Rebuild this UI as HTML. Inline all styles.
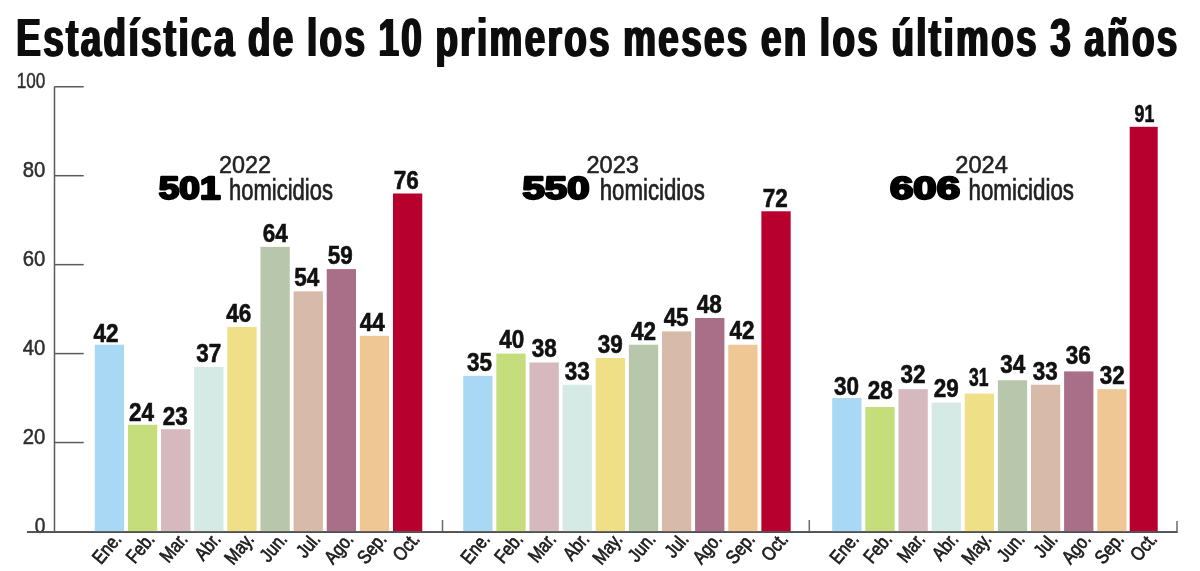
<!DOCTYPE html>
<html lang="es"><head><meta charset="utf-8"><title>Estadística de homicidios</title>
<style>html,body{margin:0;padding:0;background:#fff}svg{display:block}</style></head>
<body>
<svg width="1200" height="571" viewBox="0 0 1200 571" font-family="Liberation Sans, Arial, Helvetica, sans-serif">
<rect width="1200" height="571" fill="#fff"/>
<defs><filter id="fat" x="-2%" y="-10%" width="104%" height="120%"><feOffset in="SourceGraphic" dx="-1.0" dy="0" result="a"/><feOffset in="SourceGraphic" dx="1.0" dy="0" result="b"/><feMerge><feMergeNode in="a"/><feMergeNode in="SourceGraphic"/><feMergeNode in="b"/></feMerge></filter></defs>
<g filter="url(#fat)"><text transform="translate(16.3,56.3) scale(0.67474,1)" font-size="54.6" font-weight="700" fill="#111" letter-spacing="3.5" word-spacing="-2.0">Estadística de los 10 primeros meses en los últimos 3 años</text></g>
<g stroke="#5a5a5a" stroke-width="1.5" fill="none">
<line x1="54.5" y1="86.5" x2="54.5" y2="531.5"/>
<line x1="54.5" y1="86.75" x2="83.7" y2="86.75"/>
<line x1="54.5" y1="175.70" x2="83.7" y2="175.70"/>
<line x1="54.5" y1="264.65" x2="83.7" y2="264.65"/>
<line x1="54.5" y1="353.60" x2="83.7" y2="353.60"/>
<line x1="54.5" y1="442.55" x2="83.7" y2="442.55"/>
</g>
<line x1="27" y1="532.1" x2="1177.5" y2="532.1" stroke="#505050" stroke-width="1.6"/>
<g stroke="#6a6a6a" stroke-width="1.5"><line x1="442.5" y1="520" x2="442.5" y2="531.5"/><line x1="809.3" y1="520" x2="809.3" y2="531.5"/><line x1="1177" y1="521" x2="1177" y2="531.5"/></g>
<g font-size="21.8" fill="#2e2e2e" stroke="#2e2e2e" stroke-width="0.5" text-anchor="end">
<text x="45.3" y="87.75" textLength="28.6" lengthAdjust="spacingAndGlyphs">100</text>
<text x="45.3" y="176.70" textLength="22.6" lengthAdjust="spacingAndGlyphs">80</text>
<text x="45.3" y="265.65" textLength="22.6" lengthAdjust="spacingAndGlyphs">60</text>
<text x="45.3" y="354.60" textLength="22.6" lengthAdjust="spacingAndGlyphs">40</text>
<text x="45.3" y="443.55" textLength="22.6" lengthAdjust="spacingAndGlyphs">20</text>
<text x="45.3" y="532.50" textLength="10.6" lengthAdjust="spacingAndGlyphs">0</text>
</g>
<g>
<rect x="94.80" y="344.71" width="29.3" height="186.79" fill="#A8D8F4"/>
<rect x="127.93" y="424.76" width="29.3" height="106.74" fill="#C6DD7B"/>
<rect x="161.06" y="429.21" width="29.3" height="102.29" fill="#D6B9BE"/>
<rect x="194.19" y="366.94" width="29.3" height="164.56" fill="#D5E9E5"/>
<rect x="227.32" y="326.92" width="29.3" height="204.58" fill="#EFDF87"/>
<rect x="260.45" y="246.86" width="29.3" height="284.64" fill="#B8C7AC"/>
<rect x="293.58" y="291.34" width="29.3" height="240.16" fill="#D7BAAA"/>
<rect x="326.71" y="269.10" width="29.3" height="262.40" fill="#A96E88"/>
<rect x="359.84" y="335.81" width="29.3" height="195.69" fill="#EEC794"/>
<rect x="392.97" y="193.49" width="29.3" height="338.01" fill="#B8002F"/>
</g>
<g>
<rect x="463.20" y="375.84" width="29.3" height="155.66" fill="#A8D8F4"/>
<rect x="496.33" y="353.60" width="29.3" height="177.90" fill="#C6DD7B"/>
<rect x="529.46" y="362.50" width="29.3" height="169.00" fill="#D6B9BE"/>
<rect x="562.59" y="384.73" width="29.3" height="146.77" fill="#D5E9E5"/>
<rect x="595.72" y="358.05" width="29.3" height="173.45" fill="#EFDF87"/>
<rect x="628.85" y="344.71" width="29.3" height="186.79" fill="#B8C7AC"/>
<rect x="661.98" y="331.36" width="29.3" height="200.14" fill="#D7BAAA"/>
<rect x="695.11" y="318.02" width="29.3" height="213.48" fill="#A96E88"/>
<rect x="728.24" y="344.71" width="29.3" height="186.79" fill="#EEC794"/>
<rect x="761.37" y="211.28" width="29.3" height="320.22" fill="#B8002F"/>
</g>
<g>
<rect x="832.20" y="398.08" width="29.3" height="133.42" fill="#A8D8F4"/>
<rect x="865.33" y="406.97" width="29.3" height="124.53" fill="#C6DD7B"/>
<rect x="898.46" y="389.18" width="29.3" height="142.32" fill="#D6B9BE"/>
<rect x="931.59" y="402.52" width="29.3" height="128.98" fill="#D5E9E5"/>
<rect x="964.72" y="393.63" width="29.3" height="137.87" fill="#EFDF87"/>
<rect x="997.85" y="380.28" width="29.3" height="151.22" fill="#B8C7AC"/>
<rect x="1030.98" y="384.73" width="29.3" height="146.77" fill="#D7BAAA"/>
<rect x="1064.11" y="371.39" width="29.3" height="160.11" fill="#A96E88"/>
<rect x="1097.24" y="389.18" width="29.3" height="142.32" fill="#EEC794"/>
<rect x="1129.70" y="126.78" width="28" height="404.72" fill="#B8002F"/>
</g>
<line x1="27" y1="532.1" x2="1177.5" y2="532.1" stroke="#505050" stroke-width="1.6"/>
<g font-size="25.3" font-weight="700" fill="#111" stroke="#111" stroke-width="0.6" text-anchor="middle">
<text x="105.95" y="341.51" textLength="25" lengthAdjust="spacingAndGlyphs">42</text>
<text x="141.58" y="421.16" textLength="25" lengthAdjust="spacingAndGlyphs">24</text>
<text x="175.31" y="424.91" textLength="25" lengthAdjust="spacingAndGlyphs">23</text>
<text x="208.74" y="362.14" textLength="25" lengthAdjust="spacingAndGlyphs">37</text>
<text x="238.77" y="321.72" textLength="25" lengthAdjust="spacingAndGlyphs">46</text>
<text x="275.30" y="242.31" textLength="25" lengthAdjust="spacingAndGlyphs">64</text>
<text x="306.73" y="285.79" textLength="25" lengthAdjust="spacingAndGlyphs">54</text>
<text x="340.26" y="264.45" textLength="25" lengthAdjust="spacingAndGlyphs">59</text>
<text x="372.19" y="330.51" textLength="25" lengthAdjust="spacingAndGlyphs">44</text>
<text x="406.32" y="188.94" textLength="25" lengthAdjust="spacingAndGlyphs">76</text>
<text x="479.60" y="370.74" textLength="25" lengthAdjust="spacingAndGlyphs">35</text>
<text x="511.78" y="348.20" textLength="25" lengthAdjust="spacingAndGlyphs">40</text>
<text x="544.31" y="357.19" textLength="25" lengthAdjust="spacingAndGlyphs">38</text>
<text x="577.14" y="379.63" textLength="25" lengthAdjust="spacingAndGlyphs">33</text>
<text x="610.17" y="352.75" textLength="25" lengthAdjust="spacingAndGlyphs">39</text>
<text x="643.60" y="339.61" textLength="25" lengthAdjust="spacingAndGlyphs">42</text>
<text x="676.13" y="326.16" textLength="25" lengthAdjust="spacingAndGlyphs">45</text>
<text x="709.26" y="312.72" textLength="25" lengthAdjust="spacingAndGlyphs">48</text>
<text x="742.09" y="339.41" textLength="25" lengthAdjust="spacingAndGlyphs">42</text>
<text x="775.22" y="206.68" textLength="25" lengthAdjust="spacingAndGlyphs">72</text>
<text x="846.45" y="394.58" textLength="25" lengthAdjust="spacingAndGlyphs">30</text>
<text x="880.18" y="398.87" textLength="25" lengthAdjust="spacingAndGlyphs">28</text>
<text x="912.96" y="383.18" textLength="25" lengthAdjust="spacingAndGlyphs">32</text>
<text x="946.24" y="397.22" textLength="25" lengthAdjust="spacingAndGlyphs">29</text>
<text x="978.67" y="386.43" textLength="19.5" lengthAdjust="spacingAndGlyphs">31</text>
<text x="1012.70" y="372.68" textLength="25" lengthAdjust="spacingAndGlyphs">34</text>
<text x="1045.23" y="379.73" textLength="25" lengthAdjust="spacingAndGlyphs">33</text>
<text x="1078.16" y="363.99" textLength="25" lengthAdjust="spacingAndGlyphs">36</text>
<text x="1112.19" y="384.38" textLength="25" lengthAdjust="spacingAndGlyphs">32</text>
<text x="1144.50" y="122.48" font-size="23.2" textLength="19.8" lengthAdjust="spacingAndGlyphs">91</text>
</g>
<g font-size="19.3" fill="#1c1c1c" stroke="#1c1c1c" stroke-width="0.7" text-anchor="end">
<text transform="translate(122.50,539.70) rotate(-50) scale(0.84,1)">Ene.</text>
<text transform="translate(155.63,539.70) rotate(-50) scale(0.84,1)">Feb.</text>
<text transform="translate(188.76,539.70) rotate(-50) scale(0.84,1)">Mar.</text>
<text transform="translate(221.89,539.70) rotate(-50) scale(0.84,1)">Abr.</text>
<text transform="translate(255.02,539.70) rotate(-50) scale(0.84,1)">May.</text>
<text transform="translate(288.15,539.70) rotate(-50) scale(0.84,1)">Jun.</text>
<text transform="translate(321.28,539.70) rotate(-50) scale(0.84,1)">Jul.</text>
<text transform="translate(354.41,539.70) rotate(-50) scale(0.84,1)">Ago.</text>
<text transform="translate(387.54,539.70) rotate(-50) scale(0.84,1)">Sep.</text>
<text transform="translate(420.67,539.70) rotate(-50) scale(0.84,1)">Oct.</text>
<text transform="translate(490.90,539.70) rotate(-50) scale(0.84,1)">Ene.</text>
<text transform="translate(524.03,539.70) rotate(-50) scale(0.84,1)">Feb.</text>
<text transform="translate(557.16,539.70) rotate(-50) scale(0.84,1)">Mar.</text>
<text transform="translate(590.29,539.70) rotate(-50) scale(0.84,1)">Abr.</text>
<text transform="translate(623.42,539.70) rotate(-50) scale(0.84,1)">May.</text>
<text transform="translate(656.55,539.70) rotate(-50) scale(0.84,1)">Jun.</text>
<text transform="translate(689.68,539.70) rotate(-50) scale(0.84,1)">Jul.</text>
<text transform="translate(722.81,539.70) rotate(-50) scale(0.84,1)">Ago.</text>
<text transform="translate(755.94,539.70) rotate(-50) scale(0.84,1)">Sep.</text>
<text transform="translate(789.07,539.70) rotate(-50) scale(0.84,1)">Oct.</text>
<text transform="translate(859.90,539.70) rotate(-50) scale(0.84,1)">Ene.</text>
<text transform="translate(893.03,539.70) rotate(-50) scale(0.84,1)">Feb.</text>
<text transform="translate(926.16,539.70) rotate(-50) scale(0.84,1)">Mar.</text>
<text transform="translate(959.29,539.70) rotate(-50) scale(0.84,1)">Abr.</text>
<text transform="translate(992.42,539.70) rotate(-50) scale(0.84,1)">May.</text>
<text transform="translate(1025.55,539.70) rotate(-50) scale(0.84,1)">Jun.</text>
<text transform="translate(1058.68,539.70) rotate(-50) scale(0.84,1)">Jul.</text>
<text transform="translate(1091.81,539.70) rotate(-50) scale(0.84,1)">Ago.</text>
<text transform="translate(1124.94,539.70) rotate(-50) scale(0.84,1)">Sep.</text>
<text transform="translate(1158.07,539.70) rotate(-50) scale(0.84,1)">Oct.</text>
</g>
<text x="158.75" y="199.0" font-size="31.3" font-weight="700" fill="#000" stroke="#000" stroke-width="2.3" stroke-linejoin="round" textLength="61.75" lengthAdjust="spacingAndGlyphs">501</text>
<text x="219.00" y="173.2" font-size="24.6" fill="#222" stroke="#222" stroke-width="0.55" textLength="52" lengthAdjust="spacingAndGlyphs">2022</text>
<text x="229.00" y="200.2" font-size="29" fill="#222" stroke="#222" stroke-width="0.7" textLength="104.0" lengthAdjust="spacingAndGlyphs">homicidios</text>
<text x="522.50" y="199.0" font-size="31.3" font-weight="700" fill="#000" stroke="#000" stroke-width="2.3" stroke-linejoin="round" textLength="67" lengthAdjust="spacingAndGlyphs">550</text>
<text x="586.50" y="173.2" font-size="24.6" fill="#222" stroke="#222" stroke-width="0.55" textLength="52.5" lengthAdjust="spacingAndGlyphs">2023</text>
<text x="599.75" y="200.2" font-size="29" fill="#222" stroke="#222" stroke-width="0.7" textLength="105.0" lengthAdjust="spacingAndGlyphs">homicidios</text>
<text x="890.00" y="199.0" font-size="31.3" font-weight="700" fill="#000" stroke="#000" stroke-width="2.3" stroke-linejoin="round" textLength="70" lengthAdjust="spacingAndGlyphs">606</text>
<text x="955.25" y="173.2" font-size="24.6" fill="#222" stroke="#222" stroke-width="0.55" textLength="52.75" lengthAdjust="spacingAndGlyphs">2024</text>
<text x="968.50" y="200.2" font-size="29" fill="#222" stroke="#222" stroke-width="0.7" textLength="105.5" lengthAdjust="spacingAndGlyphs">homicidios</text>
</svg>
</body></html>
